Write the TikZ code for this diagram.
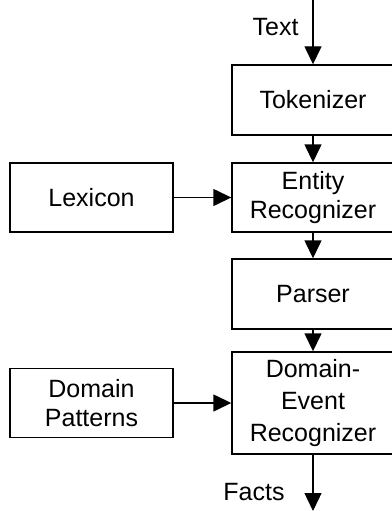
\documentclass[tikz,border=0pt]{standalone}
\usepackage{fontspec}
\setmainfont{Liberation Sans}
\usetikzlibrary{arrows.meta}
\begin{document}
\begin{tikzpicture}[x=1pt,y=-1pt,
  box/.style={draw,line width=1.4pt,inner sep=0pt,align=center,
    font=\fontsize{25}{29}\selectfont},
  rbox/.style={box,minimum width=162pt},
  lbox/.style={box,minimum width=163pt,minimum height=69pt},
  flow/.style={line width=1.4pt,-{Triangle[width=17pt,length=18pt]}},
  lbl/.style={inner sep=0pt,font=\fontsize{25}{29}\selectfont}]
\useasboundingbox (0,0) rectangle (391,511);
\node[rbox,minimum height=70pt] (tok) at (313,100) {Tokenizer};
\node[rbox,minimum height=69pt] (ent) at (313,197.5) {Entity\\Recognizer};
\node[rbox,minimum height=70pt] (par) at (313,294) {Parser};
\node[rbox,minimum height=102pt,font=\fontsize{25}{32}\selectfont] (der) at (313,403) {Domain-\\Event\\Recognizer};
\node[lbox] (lex) at (91.5,197.5) {Lexicon};
\node[lbox] (dp) at (91.5,403) {Domain\\Patterns};
\coordinate (tin) at (313,0);
\coordinate (fout) at (313,511);
\node[lbl] (ttext) at (275.5,27) {Text};
\node[lbl] (tfacts) at (254,492) {Facts};
\draw[flow] (tin) -- (tok.north);
\draw[flow] (tok) -- (ent);
\draw[flow] (ent) -- (par);
\draw[flow] (par) -- (der);
\draw[flow] (der) -- (fout);
\draw[flow] (lex) -- (ent);
\draw[flow] (dp) -- (der);
\end{tikzpicture}
\end{document}
